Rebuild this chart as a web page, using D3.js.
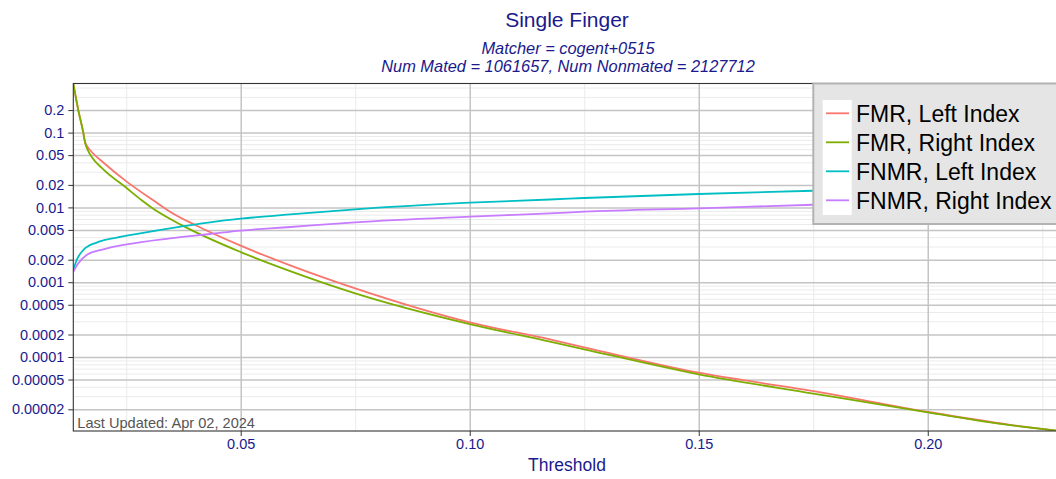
<!DOCTYPE html>
<html>
<head>
<meta charset="utf-8">
<script src="https://cdn.jsdelivr.net/npm/d3@7"></script>
<style>
  body { margin: 0; background: #ffffff; }
  text { font-family: "Liberation Sans", Arial, Helvetica, sans-serif; }
</style>
</head>
<body>
<div id="chart"></div>
<script>
// series data: [threshold, rate]
var fmrLeft = [
  [0.01345, 0.45], [0.01454, 0.199], [0.01563, 0.1], [0.0160, 0.076], [0.0167, 0.063], [0.01747, 0.0551],
  [0.0200, 0.0398], [0.0251, 0.0221], [0.0309, 0.01245], [0.03456, 0.00877], [0.0404, 0.00569],
  [0.05, 0.00308], [0.0608, 0.00168], [0.075, 0.000828], [0.1, 0.000291], [0.1175, 0.000172],
  [0.125, 0.000135], [0.15, 6.17e-5], [0.175, 3.51e-5], [0.2, 1.85e-5], [0.218, 1.24e-5], [0.228, 1.04e-5]
];
var fmrRight = [
  [0.01345, 0.45], [0.01454, 0.199], [0.01563, 0.1], [0.0160, 0.074], [0.0167, 0.057], [0.01747, 0.0472],
  [0.0200, 0.0323], [0.0251, 0.01815], [0.02838, 0.01245], [0.0309, 0.0096], [0.03712, 0.0058],
  [0.05, 0.00253], [0.0608, 0.00141], [0.075, 0.000711], [0.1, 0.000276], [0.1175, 0.000161],
  [0.125, 0.000127], [0.15, 5.87e-5], [0.175, 3.25e-5], [0.2, 1.82e-5], [0.218, 1.23e-5], [0.228, 1.04e-5]
];
var fnmrLeft = [
  [0.01345, 0.00146], [0.01419, 0.00198], [0.01563, 0.00269], [0.01856, 0.00339], [0.0220, 0.00385],
  [0.0251, 0.00419], [0.03456, 0.00526], [0.0433, 0.00632], [0.05, 0.00706], [0.0608, 0.00809],
  [0.075, 0.00944], [0.1, 0.01156], [0.1175, 0.01276], [0.125, 0.01336], [0.15, 0.01511],
  [0.175, 0.0167], [0.2, 0.0182], [0.228, 0.0197]
];
var fnmrRight = [
  [0.01345, 0.00138], [0.01454, 0.00179], [0.01637, 0.00231], [0.0200, 0.00275], [0.0251, 0.00321],
  [0.03456, 0.00386], [0.0433, 0.00441], [0.05, 0.0049], [0.0608, 0.00547], [0.075, 0.00632],
  [0.1, 0.00752], [0.1175, 0.00834], [0.125, 0.00876], [0.15, 0.00973], [0.175, 0.01086],
  [0.2, 0.0119], [0.228, 0.0129]
];

var seriesNames = ["FMR, Left Index", "FMR, Right Index", "FNMR, Left Index", "FNMR, Right Index"];
var seriesColors = ["#F8766D", "#7CAE00", "#00BFC4", "#C77CFF"];
var seriesData = [fmrLeft, fmrRight, fnmrLeft, fnmrRight];

// axis ticks
var xTicks = [0.05, 0.10, 0.15, 0.20];
var xTickLabels = ["0.05", "0.10", "0.15", "0.20"];
var xMinor = [0.025, 0.075, 0.125, 0.175, 0.225];
var yTicks = [0.2, 0.1, 0.05, 0.02, 0.01, 0.005, 0.002, 0.001, 0.0005, 0.0002, 0.0001, 0.00005, 0.00002];
var yTickLabels = ["0.2", "0.1", "0.05", "0.02", "0.01", "0.005", "0.002", "0.001", "0.0005", "0.0002", "0.0001", "0.00005", "0.00002"];
var yMinorMult = [3, 4, 6, 7, 8, 9];

var svgWidth = 1056;
var svgHeight = 479;
var margin = { top: 83.5, right: 0, bottom: 48, left: 73.3 };
var width = svgWidth - margin.left - margin.right;
var height = svgHeight - margin.top - margin.bottom;
var textBlue = "#1a1a8c";

var svg = d3.select("#chart")
  .append("svg")
  .attr("width", svgWidth)
  .attr("height", svgHeight);

var chartGroup = svg.append("g")
  .attr("transform", `translate(${margin.left}, ${margin.top})`);

var xScale = d3.scaleLinear()
  .domain([0.01345, 0.228])
  .range([0, width]);

var yScale = d3.scaleLog()
  .domain([1.026e-5, 0.4533])
  .range([height, 0]);

// minor y breaks inside the domain
var yMinor = [];
[-6, -5, -4, -3, -2, -1].forEach(e => {
  yMinorMult.forEach(m => {
    var v = m * Math.pow(10, e);
    if (v > yScale.domain()[0] && v < yScale.domain()[1]) yMinor.push(v);
  });
});

// minor grid
chartGroup.append("g")
  .call(d3.axisLeft(yScale).tickValues(yMinor).tickSize(-width).tickFormat(""))
  .call(g => g.select(".domain").remove())
  .call(g => g.selectAll("line").attr("stroke", "#ebebeb").attr("stroke-width", 1));

chartGroup.append("g")
  .call(d3.axisBottom(xScale).tickValues(xMinor).tickSize(height).tickFormat(""))
  .call(g => g.select(".domain").remove())
  .call(g => g.selectAll("line").attr("stroke", "#ebebeb").attr("stroke-width", 1));

// major grid
chartGroup.append("g")
  .call(d3.axisLeft(yScale).tickValues(yTicks).tickSize(-width).tickFormat(""))
  .call(g => g.select(".domain").remove())
  .call(g => g.selectAll("line").attr("stroke", "#c4c4c4").attr("stroke-width", 1.5));

chartGroup.append("g")
  .call(d3.axisBottom(xScale).tickValues(xTicks).tickSize(height).tickFormat(""))
  .call(g => g.select(".domain").remove())
  .call(g => g.selectAll("line").attr("stroke", "#c4c4c4").attr("stroke-width", 1.5));

// clip lines to the panel
svg.append("defs").append("clipPath")
  .attr("id", "panelClip")
  .append("rect")
  .attr("width", width)
  .attr("height", height);

var line = d3.line()
  .x(d => xScale(d[0]))
  .y(d => yScale(d[1]))
  .curve(d3.curveMonotoneX);

chartGroup.append("g")
  .attr("clip-path", "url(#panelClip)")
  .selectAll("path")
  .data(seriesData)
  .enter()
  .append("path")
  .attr("d", d => line(d))
  .attr("fill", "none")
  .attr("stroke", (d, i) => seriesColors[i])
  .attr("stroke-width", 1.8);

// panel border
chartGroup.append("rect")
  .attr("width", width + 4)
  .attr("height", height)
  .attr("fill", "none")
  .attr("stroke", "#333333")
  .attr("stroke-width", 1.1);

// y axis
var yAxis = chartGroup.append("g")
  .call(d3.axisLeft(yScale).tickValues(yTicks).tickSize(5).tickPadding(4)
    .tickFormat((d, i) => yTickLabels[i]));
yAxis.select(".domain").remove();
yAxis.selectAll("line").attr("stroke", "#333333");
yAxis.selectAll("text")
  .attr("fill", textBlue)
  .style("font-size", "14.5px");

// x axis
var xAxis = chartGroup.append("g")
  .attr("transform", `translate(0, ${height})`)
  .call(d3.axisBottom(xScale).tickValues(xTicks).tickSize(5).tickPadding(3)
    .tickFormat((d, i) => xTickLabels[i]));
xAxis.select(".domain").remove();
xAxis.selectAll("line").attr("stroke", "#333333");
xAxis.selectAll("text")
  .attr("fill", textBlue)
  .style("font-size", "14.5px");

// last updated note
chartGroup.append("text")
  .attr("x", 4)
  .attr("y", height - 3.5)
  .attr("fill", "#555555")
  .style("font-size", "14.6px")
  .text("Last Updated: Apr 02, 2024");

// titles
svg.append("text")
  .attr("x", 567)
  .attr("y", 26.5)
  .attr("text-anchor", "middle")
  .attr("fill", textBlue)
  .style("font-size", "21px")
  .text("Single Finger");

svg.append("text")
  .attr("x", 568)
  .attr("y", 54)
  .attr("text-anchor", "middle")
  .attr("fill", textBlue)
  .style("font-size", "16.4px")
  .style("font-style", "italic")
  .text("Matcher = cogent+0515");

svg.append("text")
  .attr("x", 568)
  .attr("y", 72.3)
  .attr("text-anchor", "middle")
  .attr("fill", textBlue)
  .style("font-size", "16.4px")
  .style("font-style", "italic")
  .text("Num Mated = 1061657, Num Nonmated = 2127712");

svg.append("text")
  .attr("x", 567)
  .attr("y", 471)
  .attr("text-anchor", "middle")
  .attr("fill", textBlue)
  .style("font-size", "17.5px")
  .text("Threshold");

// legend
var legend = svg.append("g")
  .attr("transform", "translate(813.3, 83.5)");

legend.append("rect")
  .attr("width", 260)
  .attr("height", 140.5)
  .attr("fill", "#e5e5e5")
  .attr("stroke", "#b3b3b3")
  .attr("stroke-width", 2);

legend.append("rect")
  .attr("x", 9.4)
  .attr("y", 16.5)
  .attr("width", 29)
  .attr("height", 115)
  .attr("fill", "#ffffff");

var legendRows = legend.selectAll(".legendRow")
  .data(seriesNames)
  .enter()
  .append("g")
  .attr("class", "legendRow")
  .attr("transform", (d, i) => `translate(0, ${29.8 + i * 29})`);

legendRows.append("line")
  .attr("x1", 12.7)
  .attr("x2", 35.7)
  .attr("stroke", (d, i) => seriesColors[i])
  .attr("stroke-width", 1.8);

legendRows.append("text")
  .attr("x", 42.7)
  .attr("dy", "0.36em")
  .attr("fill", "#000000")
  .style("font-size", "23px")
  .text(d => d);
</script>
</body>
</html>
